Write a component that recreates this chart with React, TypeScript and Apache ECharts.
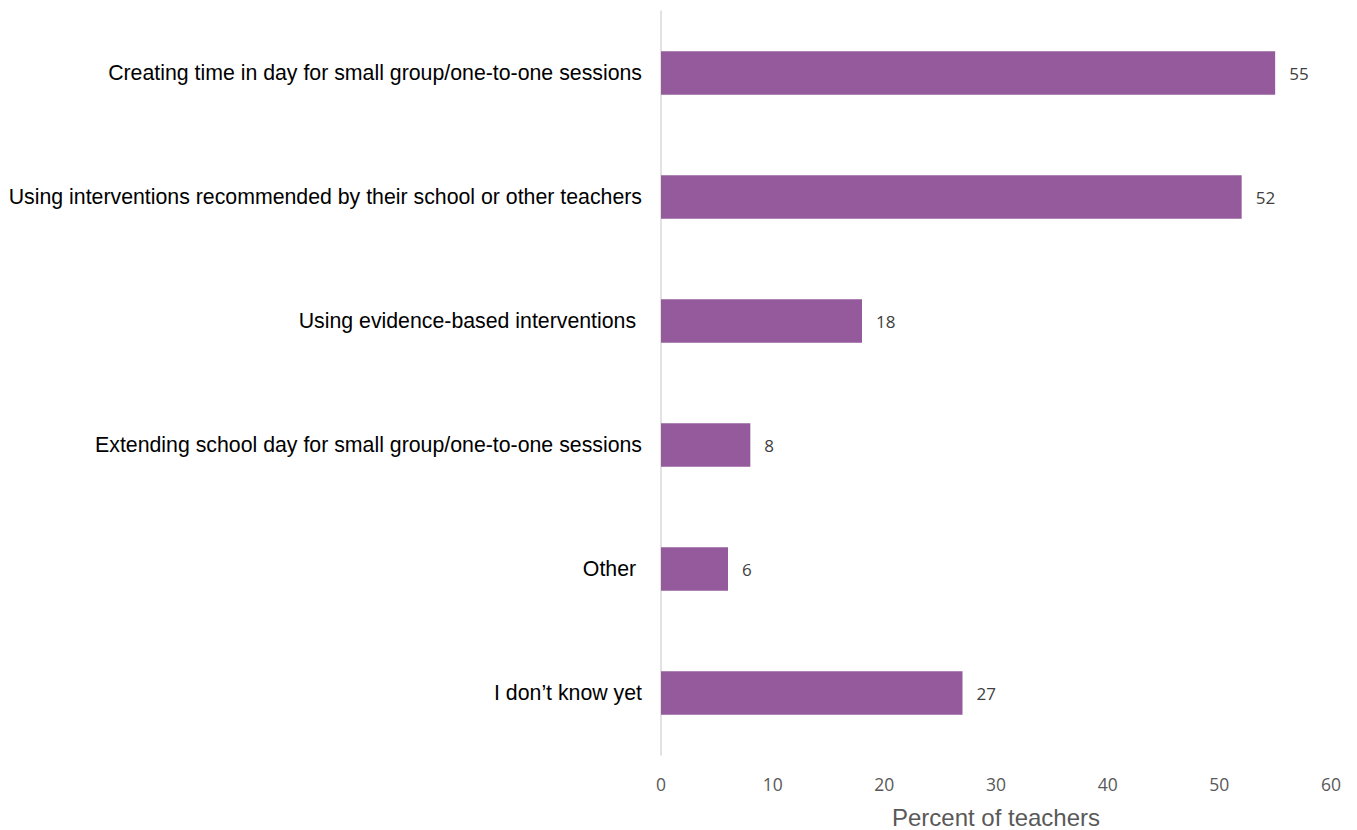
import React, { useEffect, useRef } from "react";
import * as echarts from "echarts";

const categories = [
  "Creating time in day for small group/one-to-one sessions",
  "Using interventions recommended by their school or other teachers",
  "Using evidence-based interventions\u00a0",
  "Extending school day for small group/one-to-one sessions",
  "Other\u00a0",
  "I don\u2019t know yet",
];
const values = [55, 52, 18, 8, 6, 27];
const xTicks = [0, 10, 20, 30, 40, 50, 60];
const axisTitle = "Percent of teachers";

export default function App() {
  const ref = useRef<HTMLDivElement>(null);
  useEffect(() => {
    const chart = echarts.init(ref.current!, undefined, { renderer: "svg" });
    chart.setOption({
      animation: false,
      grid: { left: 661, right: 26, top: 11, bottom: 75, containLabel: false, outerBoundsMode: "none" },
      xAxis: {
        type: "value",
        min: xTicks[0],
        max: xTicks[xTicks.length - 1],
        interval: 10,
        splitLine: { show: false },
        axisLine: { show: false },
        axisTick: { show: false },
        axisLabel: {
          color: "#595959",
          fontFamily: "Open Sans",
          fontSize: 17.5,
          margin: 20,
        },
        name: axisTitle,
        nameLocation: "middle",
        nameGap: 50,
        nameTextStyle: {
          color: "#595959",
          fontFamily: "Liberation Sans",
          fontSize: 24,
        },
      },
      yAxis: {
        type: "category",
        inverse: true,
        data: categories,
        axisLine: { show: true, lineStyle: { color: "#d9d9d9", width: 1.5 } },
        axisTick: { show: false },
        axisLabel: {
          color: "#000000",
          fontFamily: "Liberation Sans",
          fontSize: 21.3,
          margin: 19,
        },
      },
      series: [
        {
          type: "bar",
          data: values,
          barWidth: "35%",
          itemStyle: { color: "#955A9C" },
          label: {
            show: true,
            position: "right",
            distance: 14,
            color: "#404040",
            fontFamily: "Open Sans",
            fontSize: 17,
          },
        },
      ],
    });
    return () => chart.dispose();
  }, []);
  return <div ref={ref} style={{ width: 1357, height: 830, position: "absolute", left: 0, top: 0 }} />;
}
